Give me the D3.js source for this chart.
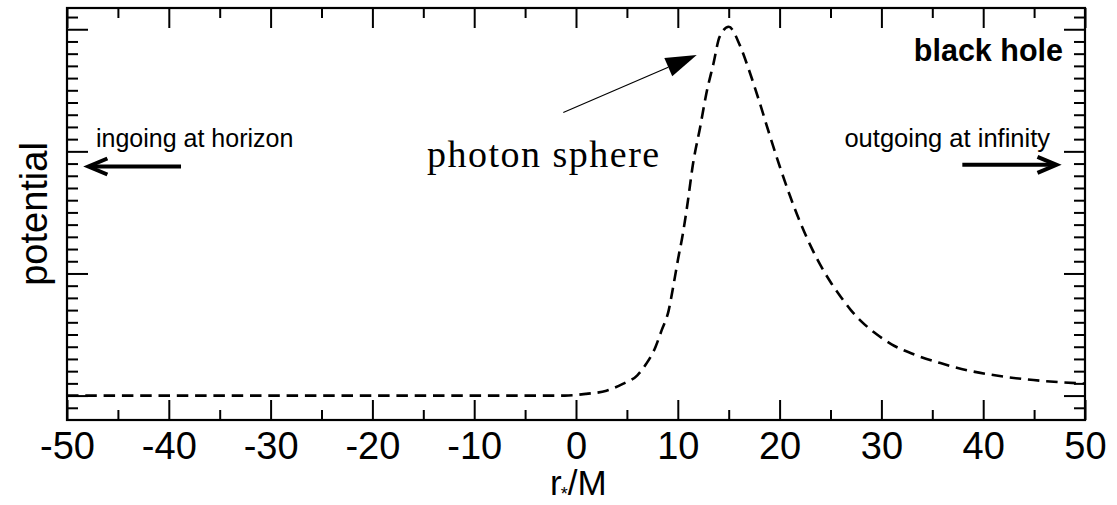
<!DOCTYPE html>
<html>
<head>
<meta charset="utf-8">
<script src="https://cdn.jsdelivr.net/npm/d3@7"></script>
<style>
	body { margin: 0; background: #fff; }
	svg { display: block; }
	.tick line { stroke: #000; stroke-width: 2; }
	.tick text { font-family: "Liberation Sans", Arial, sans-serif; fill: #000; }
</style>
</head>
<body>
<svg id="chart" width="1117" height="505"></svg>
<script>
	// tortoise coordinate r*/M and the potential
	var rStar = [
		-50, -20, -5, -1.1, 1.0, 3.0, 4.6, 6.0, 6.9, 7.8, 8.4, 9.1, 9.6, 10.0, 10.5, 10.9,
		11.5, 12.2, 12.8, 13.5, 14.1, 15.0, 16.1, 17.0, 18.0, 19.0, 20.0, 21.0, 22.0, 23.0,
		24.0, 25.0, 26.0, 27.0, 28.0, 29.5, 31.0, 33.5, 35.8, 38.4, 41.3, 44.3, 47.5, 50
	];
	var potential = [
		0, 0, 0, 0, 0.0007, 0.0020, 0.0048, 0.0082, 0.0130, 0.0198, 0.0266, 0.0348, 0.0458, 0.0553, 0.0663, 0.0770,
		0.0950, 0.1100, 0.1236, 0.1359, 0.1468, 0.1510, 0.1434, 0.1332, 0.1205, 0.1070, 0.0940, 0.0820, 0.0712, 0.0617,
		0.0535, 0.0465, 0.0405, 0.0350, 0.0305, 0.0252, 0.0210, 0.0164, 0.0133, 0.0104, 0.0082, 0.0066, 0.0055, 0.0049
	];
	var xMajor = [-50, -40, -30, -20, -10, 0, 10, 20, 30, 40, 50];
	var xMinor = [-45, -35, -25, -15, -5, 5, 15, 25, 35, 45];
	var yMajor = [0, 0.05, 0.1, 0.15];
	var yMinor = d3.range(-0.005, 0.158, 0.005).filter(function(v) {
		return Math.abs(Math.round(v * 20) - v * 20) > 0.01;
	});

	var svg = d3.select("#chart");
	var margin = { top: 8, right: 32, bottom: 85, left: 67 };
	var width = 1117 - margin.left - margin.right;
	var height = 505 - margin.top - margin.bottom;

	var x = d3.scaleLinear().domain([-50, 50]).range([margin.left, margin.left + width]);
	var y = d3.scaleLinear().domain([-0.01, 0.1587]).range([margin.top + height, margin.top]);

	var noLabel = function() { return ""; };
	var plainNum = function(d) { return String(d); };

	// ticks on all four sides, pointing inward
	function addAxis(axis, tx, ty) {
		var g = svg.append("g")
			.attr("transform", "translate(" + tx + "," + ty + ")")
			.call(axis);
		g.select(".domain").remove();
		return g;
	}

	var bottom = addAxis(d3.axisBottom(x).tickValues(xMajor).tickSize(-20).tickPadding(12).tickFormat(plainNum), 0, margin.top + height);
	bottom.selectAll("text").style("font-size", "38px");
	addAxis(d3.axisBottom(x).tickValues(xMinor).tickSize(-10).tickFormat(noLabel), 0, margin.top + height);
	addAxis(d3.axisTop(x).tickValues(xMajor).tickSize(-20).tickFormat(noLabel), 0, margin.top);
	addAxis(d3.axisTop(x).tickValues(xMinor).tickSize(-10).tickFormat(noLabel), 0, margin.top);
	addAxis(d3.axisLeft(y).tickValues(yMajor).tickSize(-21).tickFormat(noLabel), margin.left, 0);
	addAxis(d3.axisLeft(y).tickValues(yMinor).tickSize(-11).tickFormat(noLabel), margin.left, 0);
	addAxis(d3.axisRight(y).tickValues(yMajor).tickSize(-21).tickFormat(noLabel), margin.left + width, 0);
	addAxis(d3.axisRight(y).tickValues(yMinor).tickSize(-11).tickFormat(noLabel), margin.left + width, 0);

	svg.append("defs").append("clipPath").attr("id", "plot")
		.append("rect")
		.attr("x", margin.left).attr("y", margin.top)
		.attr("width", width).attr("height", height);

	var line = d3.line()
		.x(function(d, i) { return x(rStar[i]); })
		.y(function(d) { return y(d); })
		.curve(d3.curveMonotoneX);

	svg.append("path")
		.datum(potential)
		.attr("clip-path", "url(#plot)")
		.attr("fill", "none")
		.attr("stroke", "#000")
		.attr("stroke-width", 2.6)
		.attr("stroke-dasharray", "11.5,6.8")
		.attr("d", line);

	svg.append("rect")
		.attr("x", margin.left).attr("y", margin.top)
		.attr("width", width).attr("height", height)
		.attr("fill", "none")
		.attr("stroke", "#000")
		.attr("stroke-width", 2.2);

	// labels
	var sans = "'Liberation Sans', Arial, sans-serif";

	svg.append("text")
		.attr("transform", "translate(47," + (margin.top + height / 2) + ") rotate(-90)")
		.attr("text-anchor", "middle")
		.style("font-family", sans)
		.style("font-size", "38px")
		.text("potential");

	var xt = svg.append("text")
		.attr("x", 550)
		.attr("y", 495)
		.style("font-family", sans)
		.style("font-size", "35px");
	xt.append("tspan").text("r");
	xt.append("tspan").attr("dx", -1).attr("dy", 5).style("font-size", "18px").text("*");
	xt.append("tspan").attr("dy", -5).text("/M");

	svg.append("text")
		.attr("x", 1063)
		.attr("y", 61)
		.attr("text-anchor", "end")
		.style("font-family", sans)
		.style("font-size", "30.5px")
		.style("font-weight", "bold")
		.text("black hole");

	svg.append("text")
		.attr("x", 96)
		.attr("y", 147)
		.style("font-family", sans)
		.style("font-size", "25px")
		.text("ingoing at horizon");

	svg.append("text")
		.attr("x", 1050)
		.attr("y", 147)
		.attr("text-anchor", "end")
		.style("font-family", sans)
		.style("font-size", "25.5px")
		.text("outgoing at infinity");

	svg.append("text")
		.attr("x", 427)
		.attr("y", 167)
		.style("font-family", "'Liberation Serif', 'Times New Roman', serif")
		.style("font-size", "38px")
		.style("letter-spacing", "1.5px")
		.text("photon sphere");

	// direction arrows
	function chevronArrow(x0, x1, yv) {
		var dir = x1 > x0 ? 1 : -1;
		var px0 = x(x0), px1 = x(x1), py = y(yv);
		svg.append("line")
			.attr("x1", px0).attr("y1", py)
			.attr("x2", px1 - dir * 2).attr("y2", py)
			.attr("stroke", "#000").attr("stroke-width", 4);
		svg.append("path")
			.attr("d", "M" + (px1 - dir * 19) + "," + (py - 8) + "L" + px1 + "," + py + "L" + (px1 - dir * 19) + "," + (py + 8))
			.attr("fill", "none")
			.attr("stroke", "#000")
			.attr("stroke-width", 4);
	}
	chevronArrow(-38.8, -47.9, 0.0938);
	chevronArrow(37.95, 47.2, 0.0945);

	// photon sphere pointer
	var p0 = [x(-1.25), y(0.1159)];
	var p1 = [x(11.86), y(0.1395)];
	var ang = Math.atan2(p1[1] - p0[1], p1[0] - p0[0]);
	var headLen = 31, headHalf = 10;
	var bx = p1[0] - headLen * Math.cos(ang), by = p1[1] - headLen * Math.sin(ang);
	svg.append("line")
		.attr("x1", p0[0]).attr("y1", p0[1])
		.attr("x2", bx).attr("y2", by)
		.attr("stroke", "#000").attr("stroke-width", 1.2);
	svg.append("path")
		.attr("d", "M" + p1[0] + "," + p1[1] +
			"L" + (bx + headHalf * Math.sin(ang)) + "," + (by - headHalf * Math.cos(ang)) +
			"L" + (bx - headHalf * Math.sin(ang)) + "," + (by + headHalf * Math.cos(ang)) + "Z")
		.attr("fill", "#000");
</script>
</body>
</html>
